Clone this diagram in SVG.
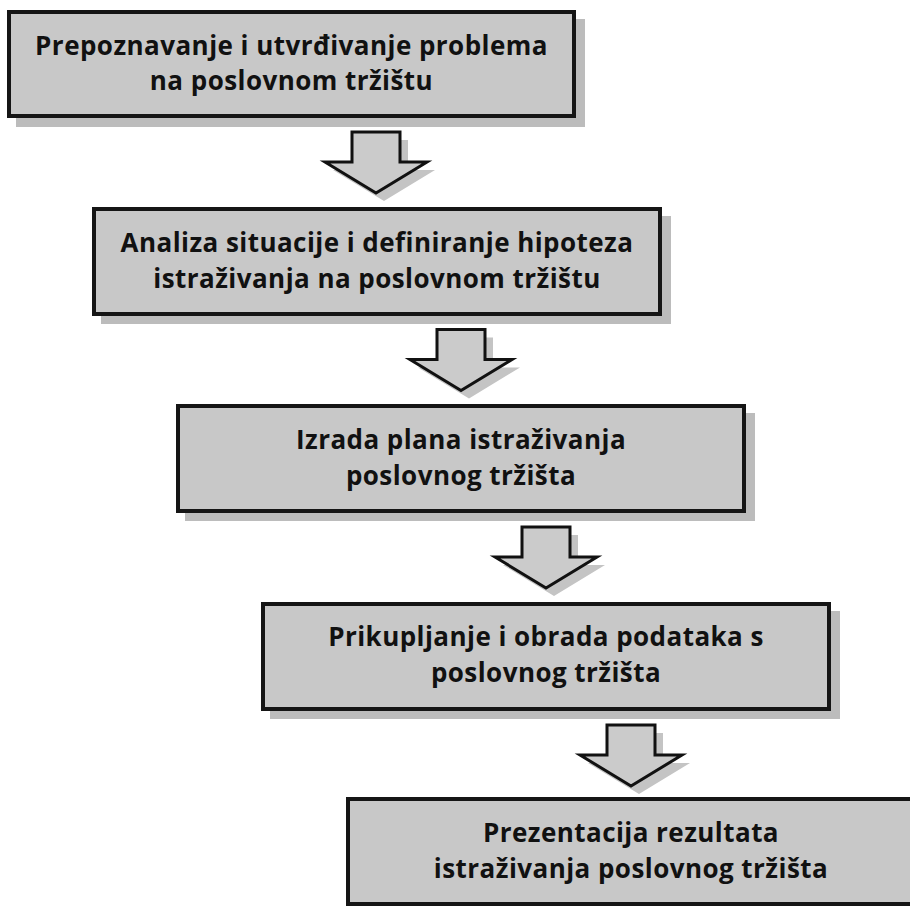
<svg xmlns="http://www.w3.org/2000/svg" width="910" height="906" viewBox="0 0 910 906">
<defs>
<style>
.box{fill:#c8c8c8;stroke:#151515;stroke-width:4}
.shadow{fill:#bcbcbc}
.t{font-family:"Open Sans","Lato","Liberation Sans",sans-serif;font-weight:700;font-size:26px;letter-spacing:0.45px;fill:#111;text-anchor:middle}
.arr{fill:#cbcbcb;stroke:#111;stroke-width:3;stroke-linejoin:miter}
.arrsh{fill:#c4c4c4}
</style>
<path id="arrowShape" d="M352,132 L400,132 L400,162 L427,162 L376,193 L325,162 L352,162 Z"/>
</defs>
<rect width="910" height="906" fill="#ffffff"/>
<g id="connectors">
<g transform="translate(0,0)">
<use href="#arrowShape" class="arrsh" transform="translate(8,8)"/>
<use href="#arrowShape" class="arr"/>
</g>
<g transform="translate(85,197.5)">
<use href="#arrowShape" class="arrsh" transform="translate(8,8)"/>
<use href="#arrowShape" class="arr"/>
</g>
<g transform="translate(170,395)">
<use href="#arrowShape" class="arrsh" transform="translate(8,8)"/>
<use href="#arrowShape" class="arr"/>
</g>
<g transform="translate(255,593)">
<use href="#arrowShape" class="arrsh" transform="translate(8,8)"/>
<use href="#arrowShape" class="arr"/>
</g>
</g>
<g id="node1">
<rect class="shadow" x="16" y="19" width="569" height="108"/>
<rect class="box" x="9" y="12" width="565" height="104"/>
<text class="t" x="291.5" y="55">Prepoznavanje i utvrđivanje problema</text>
<text class="t" x="291.5" y="90">na poslovnom tržištu</text>
</g>
<g id="node2">
<rect class="shadow" x="101" y="216" width="570" height="108"/>
<rect class="box" x="94" y="209" width="566" height="105"/>
<text class="t" x="377" y="252">Analiza situacije i definiranje hipoteza</text>
<text class="t" x="377" y="288">istraživanja na poslovnom tržištu</text>
</g>
<g id="node3">
<rect class="shadow" x="185" y="413" width="570" height="108"/>
<rect class="box" x="178" y="406" width="566" height="105"/>
<text class="t" x="461" y="449">Izrada plana istraživanja</text>
<text class="t" x="461" y="485">poslovnog tržišta</text>
</g>
<g id="node4">
<rect class="shadow" x="270" y="611" width="570" height="108"/>
<rect class="box" x="263" y="604" width="566" height="105"/>
<text class="t" x="546" y="646">Prikupljanje i obrada podataka s</text>
<text class="t" x="546" y="682">poslovnog tržišta</text>
</g>
<g id="node5">
<rect class="shadow" x="355" y="806" width="570" height="108"/>
<rect class="box" x="348" y="799" width="566" height="105"/>
<text class="t" x="631" y="842">Prezentacija rezultata</text>
<text class="t" x="631" y="878">istraživanja poslovnog tržišta</text>
</g>
</svg>
